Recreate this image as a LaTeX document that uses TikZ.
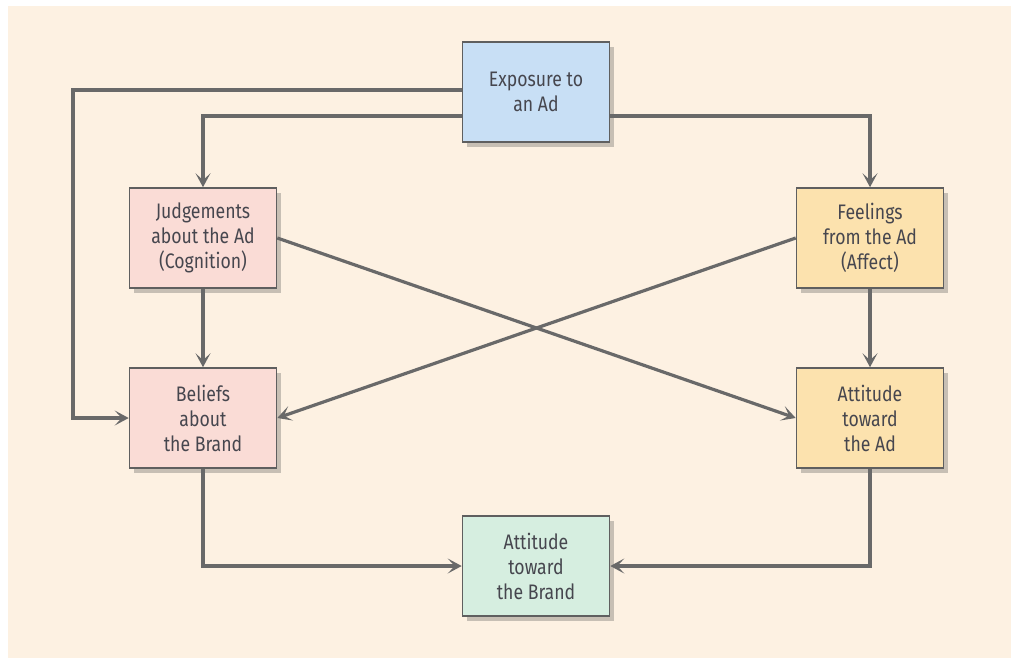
\documentclass[tikz,border=0pt]{standalone}
\usepackage{fontspec}
\setmainfont{Fira Sans}[FakeStretch=0.84]
\usetikzlibrary{arrows.meta,shadows}
\definecolor{bgcream}{RGB}{253,241,226}
\definecolor{boxline}{RGB}{95,95,95}
\definecolor{conn}{RGB}{105,105,105}
\definecolor{txt}{RGB}{70,70,78}
\definecolor{fblue}{RGB}{200,223,245}
\definecolor{fpink}{RGB}{250,220,214}
\definecolor{forange}{RGB}{252,226,174}
\definecolor{fgreen}{RGB}{214,238,224}
\tikzset{
  box/.style={draw=boxline, line width=1.6pt, minimum width=147pt, minimum height=100pt,
    align=center, text=txt, font=\fontsize{21}{25}\selectfont, inner sep=0pt,
    drop shadow={shadow xshift=4pt, shadow yshift=-5pt, opacity=0.3, fill=black!70}},
  conn/.style={draw=conn, line width=3.2pt, -{Stealth[length=14pt,width=15pt,inset=7pt]}}
}
\begin{document}
\begin{tikzpicture}[x=1pt,y=-1pt]
\useasboundingbox (0,0) rectangle (1011,657);
\fill[white] (0,0) rectangle (1011,657);
\fill[bgcream] (8,6) rectangle (1020,665);
\node[box, fill=fblue] (exp) at (536,92) {Exposure to\\an Ad};
\node[box, fill=fpink] (jud) at (203,238) {Judgements\\about the Ad\\(Cognition)};
\node[box, fill=forange] (feel) at (870,238) {Feelings\\from the Ad\\(Affect)};
\node[box, fill=fpink] (bel) at (203,418) {Beliefs\\about\\the Brand};
\node[box, fill=forange] (aad) at (870,418) {Attitude\\toward\\the Ad};
\node[box, fill=fgreen] (abr) at (536,566) {Attitude\\toward\\the Brand};
\coordinate (c1) at (73,90);
\coordinate (c2) at (73,418);
\draw[conn] (exp.west |- c1) -- (c1) -- (c2) -- (bel.west);
\draw[conn] (exp.west |- 0,116) -| (jud.north);
\draw[conn] (exp.east |- 0,116) -| (feel.north);
\draw[conn] (jud) -- (bel);
\draw[conn] (feel) -- (aad);
\draw[conn] (jud.east) -- (aad.west);
\draw[conn] (feel.west) -- (bel.east);
\draw[conn] (bel.south) |- (abr.west);
\draw[conn] (aad.south) |- (abr.east);
\end{tikzpicture}
\end{document}
